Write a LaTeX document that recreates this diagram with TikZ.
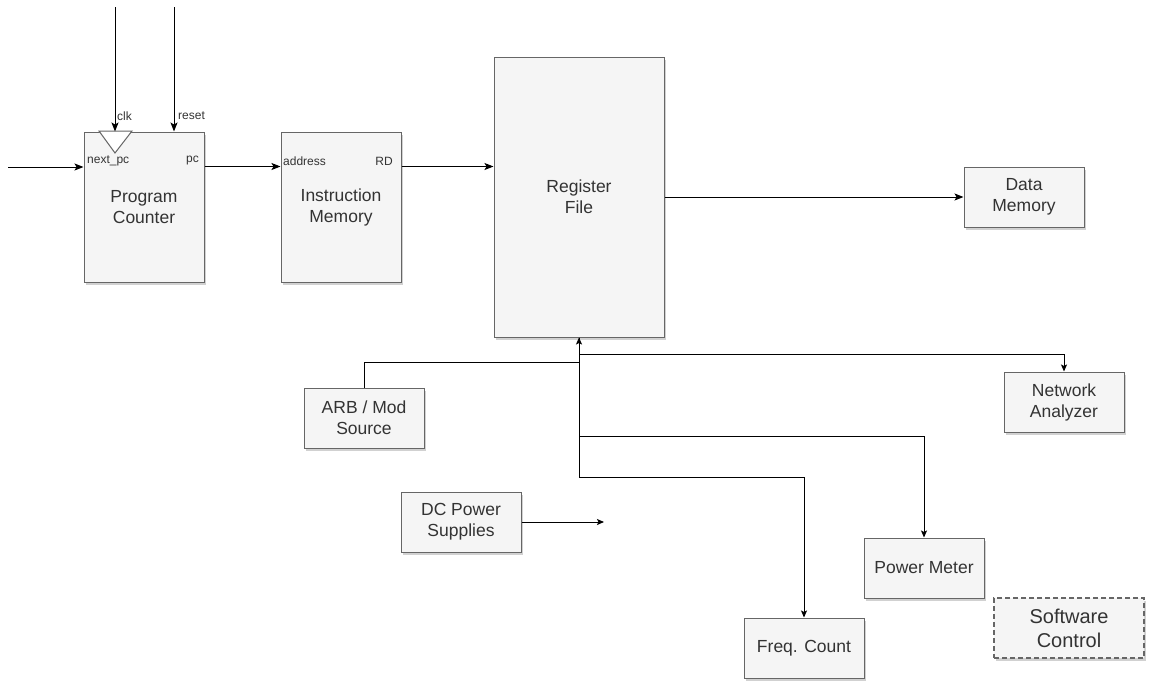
\documentclass[tikz,border=0pt]{standalone}
\usepackage{fontspec}
\setmainfont{Liberation Sans}
\usetikzlibrary{arrows.meta,shadows}
\definecolor{boxfill}{HTML}{F5F5F5}
\definecolor{boxline}{HTML}{666666}
\definecolor{txt}{HTML}{333333}
\tikzset{
  blk/.style={draw=boxline, fill=boxfill, line width=1pt, text=txt, align=center,
    inner sep=0pt, font=\fontsize{17.5}{21}\selectfont,
    drop shadow={shadow xshift=2pt, shadow yshift=-3pt, opacity=0.3, fill=black!60}},
  port/.style={font=\fontsize{12}{14}\selectfont, text=txt, inner sep=0pt},
  arr/.style={line width=1pt, -{Stealth[length=9pt,width=7pt,inset=2pt]}},
  sarr/.style={line width=1pt, -{Stealth[length=7pt,width=6pt,inset=1.5pt]}}
}
\begin{document}
\begin{tikzpicture}[x=1pt,y=-1pt]
\useasboundingbox (0,0) rectangle (1163,696);
% blocks
\node[blk, minimum width=120pt, minimum height=150pt] (PC) at (144,207) {Program\\Counter};
\node[blk, minimum width=120pt, minimum height=150pt] (IM) at (341,207) {Instruction\\Memory};
\node[blk, minimum width=170pt, minimum height=280pt] (RF) at (579,197) {Register\\File};
\node[blk, minimum width=120pt, minimum height=60pt] (DM) at (1024,197) {Data\\Memory};
\node[blk, minimum width=120pt, minimum height=60pt] (ARB) at (364,418) {ARB / Mod\\Source};
\node[blk, minimum width=120pt, minimum height=60pt] (DC) at (461,522) {DC Power\\Supplies};
\node[blk, minimum width=120pt, minimum height=60pt] (NA) at (1064,402) {Network\\Analyzer};
\node[blk, minimum width=120pt, minimum height=60pt] (PM) at (924,568) {Power Meter};
\node[blk, minimum width=120pt, minimum height=60pt] (FC) at (804,648) {Freq. Count};
\node[blk, minimum width=150pt, minimum height=60pt, dashed, dash pattern=on 5pt off 3pt, line width=1.5pt, font=\fontsize{20}{24}\selectfont] (SC) at (1069,628) {Software\\Control};
% clock triangle
\draw[boxline, line width=1pt, fill=white] (99,131) -- (132,131) -- (115,153) -- cycle;
% port labels
\node[port, anchor=west] (lnext) at (87,161) {next\_pc};
\node[port, anchor=east] (lpc) at (199,161) {pc};
\node[port, anchor=west] (laddr) at (283,161) {address};
\node[port, anchor=east] (lrd) at (393,161) {RD};
\node[port, anchor=west] (lclk) at (117,116) {clk};
\node[port, anchor=west] (lrst) at (178,116) {reset};
% free ends
\coordinate (inL) at (8,167);
\coordinate (clktop) at (115,7);
\coordinate (rsttop) at (174,7);
\coordinate (dcend) at (604,522);
\coordinate (jn) at (1064,354);
\coordinate (jp) at (924,436);
\coordinate (jf) at (804,477);
% connectors
\draw[arr] (inL) -- (PC.west |- inL);
\draw[arr] (clktop) -- (clktop |- PC.north);
\draw[arr] (rsttop) -- (rsttop |- PC.north);
\draw[arr] ([yshift=-35pt]PC.north east) -- ([yshift=-35pt]IM.north west);
\draw[arr] ([yshift=-35pt]IM.north east) coordinate (rd) -- (RF.west |- rd);
\draw[arr] (RF.east) -- (DM.west);
\draw[sarr] (ARB.north) -- ++(0,-25) -| (RF.south);
\draw[sarr] (RF.south) |- (jn) -- (NA.north);
\draw[sarr] (RF.south) |- (jp) -- (PM.north);
\draw[sarr] (RF.south) |- (jf) -- (FC.north);
\draw[sarr] (DC.east) -- (dcend);
\end{tikzpicture}
\end{document}
